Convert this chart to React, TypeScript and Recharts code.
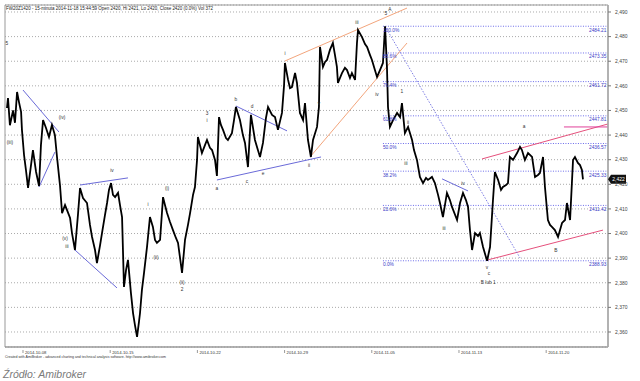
import { ComposedChart, Line, XAxis, YAxis, CartesianGrid, ReferenceLine, ReferenceDot, ReferenceArea } from 'recharts';

// FW20Z1420, 15-minute bars. t = trading days from 2014-10-08, p = price
const bars: [number, number][] = [
  [-0.92, 2451], [-0.86, 2455], [-0.75, 2444], [-0.57, 2450], [-0.46, 2445], [-0.34, 2457.5], [-0.23, 2453.4], [-0.11, 2449.4],
  [-0.06, 2442.1], [0.06, 2431.9], [0.17, 2425.8], [0.29, 2418.5], [0.46, 2427.8], [0.57, 2433.9], [0.75, 2425], [0.92, 2419.3],
  [1.03, 2436], [1.15, 2446.1], [1.32, 2442.9], [1.49, 2439.2], [1.66, 2444.1], [1.83, 2440], [1.95, 2431.1], [2.12, 2419.7],
  [2.24, 2408.3], [2.41, 2411.6], [2.52, 2409.6], [2.7, 2406.3], [2.81, 2400.2], [2.98, 2393.3], [3.15, 2407.5], [3.27, 2418.5],
  [3.44, 2414.4], [3.67, 2412.4], [3.84, 2403.5], [3.96, 2398.6], [4.13, 2393.3], [4.24, 2388], [4.42, 2395.3], [4.53, 2400.2],
  [4.7, 2407.5], [4.82, 2412.4], [4.93, 2417.7], [5.05, 2420.5], [5.16, 2415.7], [5.28, 2414.8], [5.45, 2416.5], [5.56, 2411.6],
  [5.68, 2406.7], [5.79, 2378.3], [5.91, 2385.2], [6.02, 2389.3], [6.19, 2375.8], [6.31, 2367.7], [6.42, 2362.8], [6.54, 2358],
  [6.65, 2364.1], [6.71, 2367.7], [6.82, 2377.1], [6.94, 2384], [7.11, 2394.5], [7.28, 2406.7], [7.45, 2402.7], [7.57, 2397.4],
  [7.68, 2396.2], [7.86, 2397.4], [8.03, 2414.8], [8.14, 2411.6], [8.26, 2408.3], [8.43, 2404.7], [8.6, 2401.4], [8.77, 2398.2],
  [8.89, 2396.2], [9.12, 2384], [9.29, 2397.4], [9.46, 2403.5], [9.58, 2408.3], [9.75, 2415.7], [9.86, 2418.9], [9.98, 2429.9],
  [10.03, 2439.2], [10.26, 2432.7], [10.44, 2436], [10.55, 2438], [10.72, 2434.8], [10.84, 2433.9], [11.01, 2429.9], [11.12, 2423.4],
  [11.24, 2447.3], [11.35, 2444.1], [11.47, 2442.1], [11.64, 2438.8], [11.75, 2438], [11.98, 2440.8], [12.1, 2446.1], [12.21, 2451.4],
  [12.44, 2446.1], [12.61, 2440], [12.73, 2436.8], [12.9, 2427], [13.07, 2448.2], [13.19, 2442.9], [13.3, 2438], [13.47, 2433.9],
  [13.59, 2431.1], [13.76, 2436.8], [13.93, 2446.9], [14.05, 2451.4], [14.28, 2448.2], [14.45, 2447.3], [14.62, 2442.1], [14.85, 2449],
  [14.97, 2460.3], [15.02, 2469.3], [15.2, 2462.4], [15.31, 2459.1], [15.42, 2459.5], [15.6, 2465.2], [15.71, 2461.2], [15.88, 2449],
  [16.06, 2446.1], [16.17, 2453], [16.34, 2438], [16.51, 2431.1], [16.63, 2438], [16.86, 2443.3], [16.97, 2451.4], [17.03, 2475.8],
  [17.2, 2467.7], [17.32, 2469.7], [17.43, 2470.5], [17.6, 2474.6], [17.77, 2477.4], [17.89, 2472.5], [18.0, 2467.7], [18.06, 2461.2],
  [18.29, 2465.2], [18.46, 2467.3], [18.58, 2466.4], [18.75, 2463.2], [18.86, 2465.2], [19.04, 2462.4], [19.15, 2477.4], [19.21, 2482.7],
  [19.44, 2479.8], [19.61, 2477], [19.73, 2475.8], [19.9, 2472.5], [20.01, 2470.5], [20.18, 2466.4], [20.3, 2463.6], [20.47, 2466.4],
  [20.64, 2469.3], [20.76, 2484.2], [20.87, 2467.7], [20.93, 2451.4], [21.04, 2443.3], [21.22, 2446.1], [21.45, 2449], [21.62, 2447.3],
  [21.73, 2453], [21.9, 2440.8], [22.08, 2443.3], [22.31, 2438], [22.42, 2433.9], [22.59, 2429.9], [22.76, 2423], [22.94, 2420.5],
  [23.11, 2422.6], [23.22, 2421.8], [23.45, 2423], [23.62, 2420.5], [23.8, 2415.7], [23.91, 2412.4], [24.08, 2406.7], [24.31, 2416.5],
  [24.48, 2413.6], [24.6, 2410.8], [24.89, 2405.5], [25.06, 2412.4], [25.23, 2416.5], [25.4, 2413.6], [25.52, 2410.8], [25.63, 2401.4],
  [25.75, 2393.3], [25.92, 2400.2], [26.09, 2399], [26.2, 2400.2], [26.38, 2394.5], [26.61, 2388.9], [26.78, 2394.5], [26.95, 2413.6],
  [27.06, 2425], [27.24, 2421.8], [27.41, 2417.7], [27.52, 2418.9], [27.7, 2419.7], [27.81, 2420.5], [27.92, 2431.1], [28.1, 2429.9],
  [28.33, 2432.7], [28.5, 2435.2], [28.61, 2433.9], [28.78, 2429.9], [28.96, 2432.7], [29.19, 2431.1], [29.36, 2423], [29.53, 2423.8],
  [29.64, 2424.6], [29.82, 2431.1], [29.93, 2418.9], [30.1, 2405.5], [30.22, 2403.5], [30.33, 2402.7], [30.5, 2401.4], [30.68, 2398.6],
  [30.91, 2404.3], [31.08, 2405.5], [31.19, 2412.4], [31.37, 2405.5], [31.54, 2429.9], [31.65, 2431.1], [31.82, 2428.7], [31.94, 2427.8],
  [32.05, 2425.8], [32.11, 2422],
];

const lastPrice = 2422;

const dateTicks = [0, 5, 10, 15, 20, 25, 30];
const dateLabels = ['2014-10-08', '2014-10-15', '2014-10-22', '2014-10-29', '2014-11-05', '2014-11-13', '2014-11-20'];
const priceTicks = [2360, 2370, 2380, 2390, 2400, 2410, 2420, 2430, 2440, 2450, 2460, 2470, 2480, 2490];

const xDomain: [number, number] = [-1.032, 33.545];
const yDomain: [number, number] = [2353.9, 2492.84];

// Fibonacci retracement 2484.21 -> 2388.93
const fibPcts = ['100.0%', '88.6%', '76.4%', '61.8%', '50.0%', '38.2%', '23.6%', '0.0%'];
const fibValues = [2484.21, 2473.35, 2461.72, 2447.81, 2436.57, 2425.33, 2411.42, 2388.93];
const fibSpan = [20.64, 33.45];

// trend lines drawn on the chart: [t1, p1, t2, p2, colour, dashed]
const trendLines: [number, number, number, number, string, boolean][] = [
  [0.0, 2458.3, 2.06, 2441.25, '#6a6ad8', false],
  [0.92, 2418.9, 1.83, 2433.1, '#6a6ad8', false],
  [3.27, 2419.7, 6.02, 2422.6, '#6a6ad8', false],
  [2.98, 2393.3, 5.39, 2377.9, '#6a6ad8', false],
  [11.12, 2421.75, 17.09, 2431.1, '#6a6ad8', false],
  [12.21, 2451.8, 15.14, 2441.7, '#6a6ad8', false],
  [24.03, 2422.2, 25.52, 2417.3, '#6a6ad8', false],
  [15.02, 2470.1, 22.02, 2491.6, '#f3a57c', false],
  [16.46, 2431.1, 22.02, 2477.4, '#f3a57c', false],
  [26.32, 2430.3, 33.54, 2444.5, '#e5507c', false],
  [26.66, 2389.3, 33.26, 2401.4, '#e5507c', false],
  [31.02, 2443.3, 33.54, 2443.3, '#e0409a', false],
  [20.76, 2484.2, 28.5, 2390.1, '#6f6fe0', true],
];

// wave labels: [text, t, p]
const waveLabels: [string, number, number][] = [
  ['5', -0.92, 2477.4], ['(iii)', -0.75, 2437.2], ['(iv)', 2.24, 2447.3], ['(v)', 2.41, 2398.2], ['iii', 2.52, 2394.9],
  ['iv', 5.1, 2425.8], ['i', 7.17, 2412.0], ['(ii)', 7.63, 2390.5], ['(i)', 8.26, 2418.5], ['(ii)', 9.12, 2380.3], ['2', 9.12, 2377.5],
  ['3', 10.55, 2449.0], ['i', 10.55, 2446.1], ['b', 12.21, 2454.7], ['d', 13.13, 2451.8], ['c', 12.84, 2421.3], ['e', 13.76, 2424.6],
  ['a', 11.12, 2418.5], ['i', 15.02, 2473.3], ['ii', 16.4, 2427.9], ['iii', 19.15, 2485.9], ['iv', 20.3, 2456.7], ['v', 16.97, 2453.0],
  ['5', 20.81, 2489.6], ['A', 21.04, 2491.2], ['1', 21.73, 2457.9], ['ii', 22.08, 2445.3], ['iii', 21.96, 2428.6],
  ['iii', 24.14, 2402.1], ['iv', 25.23, 2420.5], ['v', 26.61, 2386.4], ['c', 26.72, 2384.0], ['B lub 1', 26.68, 2380.3],
  ['a', 28.73, 2443.7], ['B', 30.56, 2393.3],
];

const FONT = '"Liberation Sans", Arial, sans-serif';
const title = 'FW20Z1420 - 15-minuta 2014-11-18 15:44:59 Open 2420, Hi 2421, Lo 2420, Close 2420 (0.0%) Vol 372';

const data = bars.map(([t, p]) => ({ t, p }));

const DateTick = ({ x, y, payload }: any) => {
  const i = dateTicks.indexOf(payload.value);
  return (
    <g>
      <line x1={x} x2={x} y1={y + 1} y2={y + 4} stroke="#555" strokeWidth={0.6} />
      <text x={x + 2} y={y + 4.6} fontSize={4.2} fill="#333" fontFamily={FONT}>{dateLabels[i]}</text>
    </g>
  );
};

const PriceTick = ({ x, y, payload }: any) => (
  <text x={x} y={y + 1.8} fontSize={5} fill="#444" fontFamily={FONT}>
    {payload.value.toLocaleString('en-US')}
  </text>
);

const textShape = (label: string, anchor = 'middle', color = '#333', dy = 1.7) => (props: any) => (
  <text x={props.cx} y={props.cy + dy} fontSize={4.8} fill={color} textAnchor={anchor} fontFamily={FONT}>{label}</text>
);

const lastShape = (props: any) => (
  <g>
    <polygon
      points={`${props.cx},${props.cy} ${props.cx + 3},${props.cy - 4.5} ${props.cx + 18},${props.cy - 4.5} ${props.cx + 18},${props.cy + 4.5} ${props.cx + 3},${props.cy + 4.5}`}
      fill="#111"
    />
    <text x={props.cx + 10.5} y={props.cy + 1.8} fontSize={5} fill="#fff" textAnchor="middle" fontFamily={FONT}>
      {lastPrice.toLocaleString('en-US')}
    </text>
  </g>
);

export default function App() {
  return (
    <div style={{ position: 'absolute', left: 0, top: 0, width: 640, height: 381, background: '#fff' }}>
      <ComposedChart width={640} height={381} data={data} margin={{ top: 5, right: 0, left: 5, bottom: 0 }}>
        <CartesianGrid horizontal vertical={false} stroke="#aaa" strokeDasharray="1 2" />
        <XAxis
          dataKey="t"
          type="number"
          domain={xDomain}
          allowDataOverflow
          ticks={dateTicks}
          tick={<DateTick />}
          tickLine={false}
          tickSize={0}
          height={34}
          axisLine={{ stroke: '#999' }}
          interval={0}
        />
        <YAxis
          orientation="right"
          type="number"
          domain={yDomain}
          allowDataOverflow
          ticks={priceTicks}
          tick={<PriceTick />}
          tickSize={3}
          tickMargin={4}
          tickLine={{ stroke: '#777' }}
          width={32}
          axisLine={{ stroke: '#aaa', strokeWidth: 1.5 }}
          interval={0}
        />
        <ReferenceArea x1={xDomain[0]} x2={xDomain[1]} y1={yDomain[0]} y2={yDomain[1]} fill="none" stroke="#999" ifOverflow="visible" />
        {fibValues.map((v, i) => (
          <ReferenceLine
            key={'f' + i}
            segment={[{ x: fibSpan[0], y: v }, { x: fibSpan[1], y: v }]}
            stroke="#6c6cea"
            strokeDasharray="1 1.5"
            ifOverflow="visible"
          />
        ))}
        {fibValues.map((v, i) => (
          <ReferenceDot key={'fl' + i} x={fibSpan[0]} y={v} r={0} ifOverflow="visible"
            shape={textShape(fibPcts[i], 'start', '#3b3bc8', 5.5)} />
        ))}
        {fibValues.map((v, i) => (
          <ReferenceDot key={'fr' + i} x={fibSpan[1]} y={v} r={0} ifOverflow="visible"
            shape={textShape(v.toFixed(2), 'end', '#3b3bc8', 5.5)} />
        ))}
        {trendLines.map(([t1, p1, t2, p2, c, d], i) => (
          <ReferenceLine
            key={'tl' + i}
            segment={[{ x: t1, y: p1 }, { x: t2, y: p2 }]}
            stroke={c}
            strokeWidth={d ? 0.9 : 1}
            strokeDasharray={d ? '1.5 1.5' : undefined}
            ifOverflow="visible"
          />
        ))}
        <Line
          dataKey="p"
          type="linear"
          stroke="#000"
          strokeWidth={1.8}
          dot={false}
          isAnimationActive={false}
        />
        {waveLabels.map(([s, t, p], i) => (
          <ReferenceDot key={'w' + i} x={t} y={p} r={0} ifOverflow="visible" shape={textShape(s)} />
        ))}
        <ReferenceDot x={xDomain[1]} y={lastPrice} r={0} ifOverflow="visible" shape={lastShape} />
      </ComposedChart>
      <svg width={640} height={381} style={{ position: 'absolute', left: 0, top: 0, pointerEvents: 'none' }}>
        <text x={6} y={9.5} fontSize={4.8} fill="#222" fontFamily={FONT} textLength={207} lengthAdjust="spacingAndGlyphs">{title}</text>
        <text x={5} y={358} fontSize={4} fill="#333" fontFamily={FONT} textLength={161} lengthAdjust="spacingAndGlyphs">
          Created with AmiBroker - advanced charting and technical analysis software. http://www.amibroker.com
        </text>
        <text x={3} y={378} fontSize={10.5} fill="#7a7a7a" fontStyle="italic" fontFamily={FONT}>Źródło: Amibroker</text>
      </svg>
    </div>
  );
}
